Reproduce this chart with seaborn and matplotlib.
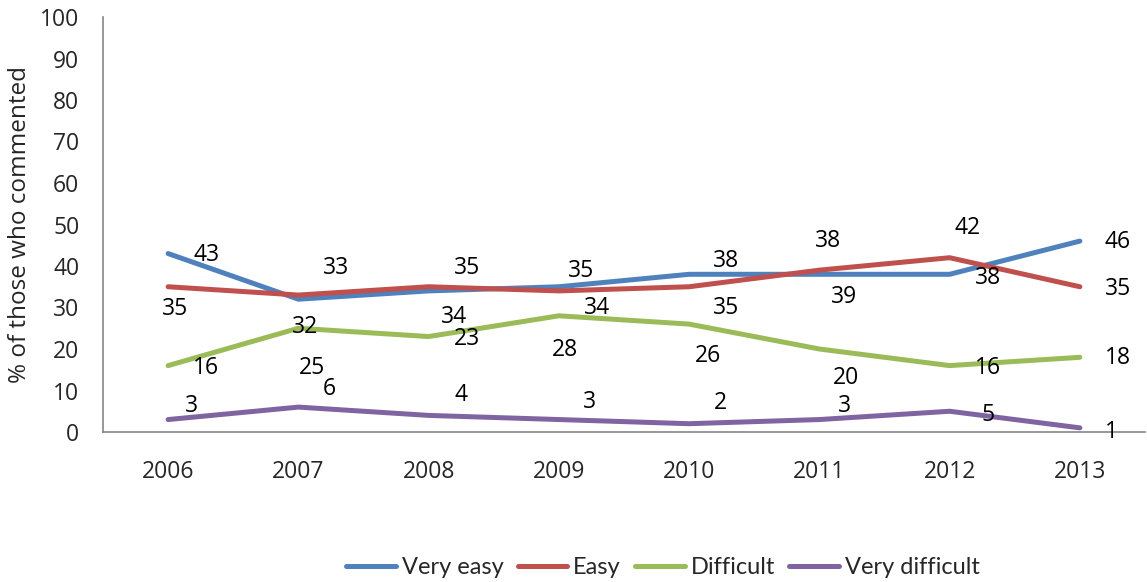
import matplotlib
matplotlib.use("Agg")
import matplotlib.pyplot as plt
import seaborn as sns
import pandas as pd
import numpy as np

years = ["2006", "2007", "2008", "2009", "2010", "2011", "2012", "2013"]
very_easy = [43, 32, 34, 35, 38, 38, 38, 46]
easy = [35, 33, 35, 34, 35, 39, 42, 35]
difficult = [16, 25, 23, 28, 26, 20, 16, 18]
very_difficult = [3, 6, 4, 3, 2, 3, 5, 1]
series_names = ["Very easy", "Easy", "Difficult", "Very difficult"]
colors = ["#4F81BD", "#C0504D", "#9BBB59", "#8064A2"]

# label offsets (pixels, dx right / dy down) as placed in the original
label_offsets = {
    "Very easy": [(38, 1), (7, 28), (25, 26), (22, -16), (37, -13), (9, -33), (38, 4), (38, 1)],
    "Easy": [(7, 22), (38, -27), (38, -19), (38, 17), (37, 21), (25, 27), (18, -30), (38, 2)],
    "Difficult": [(38, 2), (14, 40), (38, 2), (6, 34), (19, 32), (27, 29), (38, 2), (38, 1)],
    "Very difficult": [(23, -14), (31, -18), (32, -20), (31, -18), (31, -21), (25, -14), (38, 4), (32, 4)],
}

values = [very_easy, easy, difficult, very_difficult]
df = pd.DataFrame({
    "Year": years * 4,
    "Value": sum(values, []),
    "Series": [n for n in series_names for _ in years],
})

sns.set_theme(style="white")
plt.rcParams["font.family"] = ["Open Sans", "DejaVu Sans"]
FS = 16.5

fig = plt.figure(figsize=(11.47, 5.82), dpi=100)
ax = fig.add_axes([103 / 1147, 150 / 582, (1145 - 103) / 1147, (432 - 17) / 582])

sns.lineplot(data=df, x="Year", y="Value", hue="Series", hue_order=series_names,
             palette=colors, linewidth=3.6, ax=ax, sort=False)

for name, vals in zip(series_names, values):
    for i, v in enumerate(vals):
        dx, dy = label_offsets[name][i]
        ax.annotate(str(v), xy=(i, v), xytext=(dx, -dy), textcoords="offset pixels",
                    ha="center", va="center", fontsize=FS, color="black")

ax.set_xlim(-0.5, 7.5)
ax.set_ylim(0, 100)
ax.set_yticks(np.arange(0, 101, 10))
ax.set_xticks(range(len(years)))
ax.set_xticklabels(years)
ax.set_xticks(np.arange(-0.5, 8, 1), minor=True)
ax.tick_params(axis="x", which="major", length=0, pad=20, labelsize=FS)
ax.tick_params(axis="x", which="minor", length=6, width=1, color="#868686", direction="out")
ax.tick_params(axis="y", length=6, width=1, color="#868686", direction="out", labelsize=FS, pad=11)
ax.set_xlabel("")
ax.set_ylabel("% of those who commented", fontsize=17.5, labelpad=6)
for s in ["top", "right"]:
    ax.spines[s].set_visible(False)
for s in ["left", "bottom"]:
    ax.spines[s].set_color("#868686")
    ax.spines[s].set_linewidth(1.2)

ax.legend_.remove()
handles = [plt.Line2D([0], [0], color=c, lw=3.6) for c in colors]
fig.legend(handles, series_names, loc="center", bbox_to_anchor=(663 / 1147, 1 - 568 / 582),
           ncol=4, frameon=False, prop={"family": "Lato", "size": 17}, handlelength=2.1,
           handletextpad=0.25, columnspacing=0.6)

fig.savefig("out.png", dpi=100)
